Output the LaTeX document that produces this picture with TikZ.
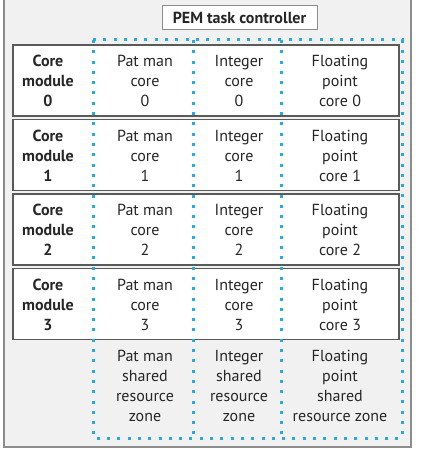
\documentclass[tikz,border=0pt]{standalone}
\usepackage{fontspec}
\setmainfont{PT Sans}
\usetikzlibrary{positioning}

\definecolor{zoneblue}{HTML}{29A9E1}
\definecolor{panelgray}{HTML}{F1F1F1}
\definecolor{framegray}{HTML}{8C8C8C}
\definecolor{rowgray}{HTML}{5A5A5A}

\begin{document}
\begin{tikzpicture}[x=1pt,y=-1pt,
  txt/.style={align=center,font=\fontsize{16}{20}\selectfont,text=black!85},
  boldtxt/.style={txt,font=\fontsize{16}{20}\selectfont\bfseries},
  rowbox/.style={draw=rowgray,line width=1.3pt,fill=white},
  zone/.style={draw=zoneblue,line width=3pt,dash pattern=on 3pt off 7.3pt}]
  \useasboundingbox (0,0) rectangle (420,449);

  % Draw the panel
  \draw[framegray,line width=1.5pt,fill=panelgray] (4,-2) rectangle (411,447);

  % Draw the task controller
  \node[draw=framegray,line width=1pt,fill=white,minimum width=155pt,minimum height=24pt,
        font=\fontsize{16}{20}\selectfont\bfseries,text=black!85] (ctrl) at (239.5,18) {PEM task controller};

  % Draw the core modules
  \foreach \i in {0,1,2,3} {
    \pgfmathsetmacro\rtop{45+74.5*\i}
    \draw[rowbox] (13,\rtop) rectangle (399,\rtop+71);
    \node[boldtxt] (mod\i) at (48,\rtop+36) {Core\\module\\\i};
    \node[txt] (pat\i) at (145,\rtop+36) {Pat man\\core\\\i};
    \node[txt] (int\i) at (239,\rtop+36) {Integer\\core\\\i};
    \node[txt] (fp\i) at (340,\rtop+36) {Floating\\point\\core \i};
  }

  % Draw the shared resource zones
  \node[txt] (patzone) at (145,386) {Pat man\\shared\\resource\\zone};
  \node[txt] (intzone) at (239,386) {Integer\\shared\\resource\\zone};
  \node[txt] (fpzone) at (340,386) {Floating\\point\\shared\\resource zone};

  % Draw the dotted zone borders
  \draw[zone] (93,40) rectangle (402,438);
  \draw[zone] (193,40) -- (193,438);
  \draw[zone] (281,40) -- (281,438);

\end{tikzpicture}
\end{document}
